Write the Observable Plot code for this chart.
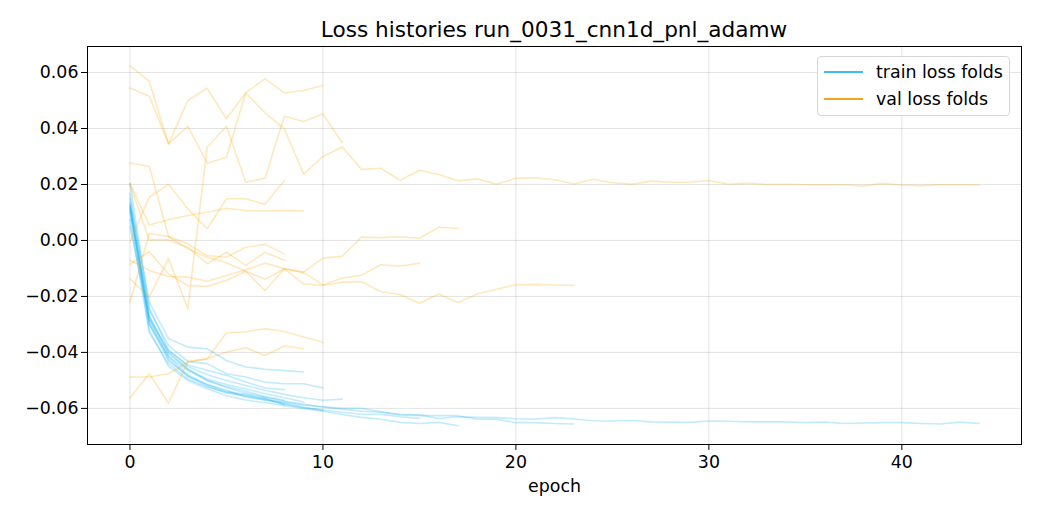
<!DOCTYPE html>
<html>
<head>
<meta charset="utf-8">
<script src="https://cdn.jsdelivr.net/npm/d3@7"></script>
<script src="https://cdn.jsdelivr.net/npm/@observablehq/plot@0.6"></script>
<style>
  html, body { margin: 0; padding: 0; background: #fff; }
  #wrap { position: relative; width: 1040px; height: 520px; font-family: "DejaVu Sans", sans-serif; }
  #title { position: absolute; z-index: 3; left: 87px; width: 934px; top: 14px; text-align: center; font-size: 21.6px; line-height: 32px; color: #000; }
  #chart { position: absolute; z-index: 1; left: 0; top: 40px; }
  #legend { position: absolute; z-index: 2; left: 817px; top: 56px; width: 193px; height: 60px; box-sizing: border-box;
            border: 1px solid #d6d6d6; border-radius: 4px; background: rgba(255,255,255,0.85); font-size: 17.4px; color: #000; }
  .item { position: absolute; left: 6px; height: 22px; display: flex; align-items: center; white-space: nowrap; }
  .swatch { width: 39px; height: 0; border-top: 2.4px solid; margin-right: 13px; }
</style>
</head>
<body>
<div id="wrap">
  <div id="title">Loss histories run_0031_cnn1d_pnl_adamw</div>
  <div id="chart"></div>
  <div id="legend">
    <div class="item" style="top:4px"><div class="swatch" style="border-color:#3dbdf7"></div><span>train loss folds</span></div>
    <div class="item" style="top:31px"><div class="swatch" style="border-color:#f5a41c"></div><span>val loss folds</span></div>
  </div>
</div>
<script>
// ---- data: per-fold loss histories (index = epoch) ----
const trainFold01 = [0.0125, -0.0250, -0.0375, -0.0432, -0.0440, -0.0476, -0.0488, -0.0506, -0.0512, -0.0512, -0.0527];
const trainFold02 = [0.0050, -0.0280, -0.0400, -0.0460, -0.0500, -0.0525, -0.0545, -0.0560, -0.0575, -0.0585, -0.0595, -0.0603, -0.0610, -0.0614, -0.0621, -0.0623, -0.0636, -0.0630, -0.0632, -0.0633, -0.0637, -0.0639, -0.0633, -0.0638, -0.0644, -0.0645, -0.0643, -0.0648, -0.0649, -0.0650, -0.0645, -0.0646, -0.0648, -0.0648, -0.0648, -0.0651, -0.0649, -0.0654, -0.0652, -0.0651, -0.0651, -0.0654, -0.0656, -0.0649, -0.0654];
const trainFold03 = [0.0204, -0.0240, -0.0390, -0.0450, -0.0480, -0.0500, -0.0518, -0.0535, -0.0550, -0.0562, -0.0571, -0.0567];
const trainFold04 = [0.0110, -0.0270, -0.0395, -0.0445, -0.0464, -0.0482, -0.0506, -0.0527, -0.0533];
const trainFold05 = [0.0168, -0.0270, -0.0405, -0.0460, -0.0495, -0.0515, -0.0530, -0.0548, -0.0562, -0.0577];
const trainFold06 = [0.0115, -0.0300, -0.0430, -0.0485, -0.0515, -0.0535, -0.0560, -0.0570, -0.0582, -0.0595, -0.0607];
const trainFold07 = [0.0150, -0.0220, -0.0351, -0.0381, -0.0387, -0.0429, -0.0452, -0.0460, -0.0465, -0.0470];
const trainFold08 = [0.0135, -0.0300, -0.0415, -0.0465, -0.0500, -0.0522, -0.0538, -0.0558, -0.0571];
const trainFold09 = [0.0075, -0.0330, -0.0440, -0.0495, -0.0524, -0.0542, -0.0554, -0.0565, -0.0587];
const trainFold10 = [0.0100, -0.0320, -0.0450, -0.0500, -0.0530, -0.0555, -0.0570, -0.0580, -0.0590, -0.0600, -0.0610, -0.0622, -0.0632, -0.0639, -0.0650, -0.0654, -0.0650, -0.0662];
const trainFold11 = [0.0130, -0.0280, -0.0415, -0.0480, -0.0515, -0.0540, -0.0550, -0.0565, -0.0585, -0.0598, -0.0606, -0.0614, -0.0621, -0.0621, -0.0630, -0.0636];
const trainFold12 = [0.0120, -0.0290, -0.0425, -0.0485, -0.0520, -0.0545, -0.0556, -0.0570, -0.0578, -0.0588, -0.0594, -0.0600, -0.0600, -0.0612, -0.0624, -0.0626, -0.0626, -0.0626, -0.0639, -0.0639, -0.0651, -0.0651, -0.0654, -0.0656];

const valFold01 = [0.0625, 0.0568, 0.0345, 0.0500, 0.0544, 0.0435, 0.0527, 0.0578, 0.0527, 0.0536, 0.0554];
const valFold02 = [0.0545, 0.0515, 0.0345, 0.0408, 0.0276, 0.0297, 0.0527, 0.0456, 0.0399, 0.0237, 0.0300, 0.0334, 0.0254, 0.0258, 0.0215, 0.0251, 0.0236, 0.0213, 0.0220, 0.0201, 0.0222, 0.0224, 0.0217, 0.0202, 0.0219, 0.0206, 0.0201, 0.0212, 0.0208, 0.0208, 0.0214, 0.0201, 0.0205, 0.0200, 0.0201, 0.0199, 0.0199, 0.0199, 0.0194, 0.0204, 0.0198, 0.0195, 0.0199, 0.0199, 0.0198];
const valFold03 = [-0.0137, -0.0202, -0.0065, -0.0244, 0.0333, 0.0408, 0.0208, 0.0222, 0.0444, 0.0425, 0.0452, 0.0349];
const valFold04 = [-0.0005, 0.0155, 0.0200, 0.0113, 0.0042, 0.0149, 0.0149, 0.0129, 0.0214];
const valFold05 = [0.0204, 0.0055, 0.0074, 0.0089, 0.0101, 0.0115, 0.0107, 0.0105, 0.0107, 0.0105];
const valFold06 = [-0.0488, -0.0488, -0.0476, -0.0435, -0.0423, -0.0330, -0.0327, -0.0315, -0.0325, -0.0345, -0.0364];
const valFold07 = [-0.0563, -0.0476, -0.0581, -0.0432, -0.0423, -0.0399, -0.0383, -0.0411, -0.0377, -0.0387];
const valFold08 = [0.0200, 0.0002, 0.0002, -0.0024, -0.0083, -0.0042, -0.0089, -0.0042, -0.0071];
const valFold09 = [-0.0220, 0.0024, 0.0014, -0.0012, -0.0054, -0.0060, -0.0024, -0.0014, -0.0048];
const valFold10 = [0.0277, 0.0265, 0.0014, -0.0030, -0.0060, -0.0080, -0.0110, -0.0139, -0.0101, -0.0113, -0.0063, -0.0056, 0.0012, 0.0010, 0.0013, 0.0008, 0.0047, 0.0043];
const valFold11 = [-0.0085, -0.0040, -0.0120, -0.0161, -0.0164, -0.0143, -0.0110, -0.0179, -0.0101, -0.0115, -0.0159, -0.0134, -0.0124, -0.0087, -0.0092, -0.0081];
const valFold12 = [-0.0071, -0.0107, -0.0129, -0.0131, -0.0146, -0.0125, -0.0105, -0.0081, -0.0101, -0.0155, -0.0161, -0.0149, -0.0147, -0.0183, -0.0193, -0.0224, -0.0191, -0.0222, -0.0191, -0.0174, -0.0158, -0.0157, -0.0159, -0.0161];

const xTicks = [0, 10, 20, 30, 40];
const yTicks = [-0.06, -0.04, -0.02, 0.00, 0.02, 0.04, 0.06];
const xLabel = "epoch";

// ---- build tidy rows ----
const trainFolds = [trainFold01, trainFold02, trainFold03, trainFold04, trainFold05, trainFold06,
                    trainFold07, trainFold08, trainFold09, trainFold10, trainFold11, trainFold12];
const valFolds = [valFold01, valFold02, valFold03, valFold04, valFold05, valFold06,
                  valFold07, valFold08, valFold09, valFold10, valFold11, valFold12];
const toRows = (folds, kind) => folds.flatMap((arr, f) => arr.map((v, i) => ({fold: kind + f, epoch: i, loss: v})));
const trainRows = toRows(trainFolds, "train");
const valRows = toRows(valFolds, "val");

const chart = Plot.plot({
  width: 1040,
  height: 480,
  marginLeft: 87,
  marginRight: 19,
  marginTop: 6,
  marginBottom: 76,
  style: {fontFamily: "DejaVu Sans, sans-serif", fontSize: "17.4px", color: "#000", background: "transparent", overflow: "visible"},
  x: {domain: [-2.2, 46.2]},
  y: {domain: [-0.0729, 0.0693]},
  marks: [
    Plot.gridX(xTicks, {stroke: "#b0b0b0", strokeOpacity: 0.35, strokeWidth: 1}),
    Plot.gridY(yTicks, {stroke: "#b0b0b0", strokeOpacity: 0.35, strokeWidth: 1}),
    Plot.line(trainRows, {x: "epoch", y: "loss", z: "fold", stroke: "#12b2f5", strokeOpacity: 0.26, strokeWidth: 1.6}),
    Plot.line(valRows, {x: "epoch", y: "loss", z: "fold", stroke: "#ffa500", strokeOpacity: 0.26, strokeWidth: 1.6}),
    Plot.frame({stroke: "#000", strokeWidth: 1}),
    Plot.axisX(xTicks, {tickSize: 6, tickPadding: 5, label: null, fontSize: 17.4}),
    Plot.axisY(yTicks, {tickSize: 6, tickPadding: 3, label: null, fontSize: 17.4, tickFormat: d3.format(".2f")}),
    Plot.text([xLabel], {frameAnchor: "bottom", dy: 47, fontSize: 17.4, text: d => d})
  ]
});
document.getElementById("chart").appendChild(chart);
</script>
</body>
</html>
